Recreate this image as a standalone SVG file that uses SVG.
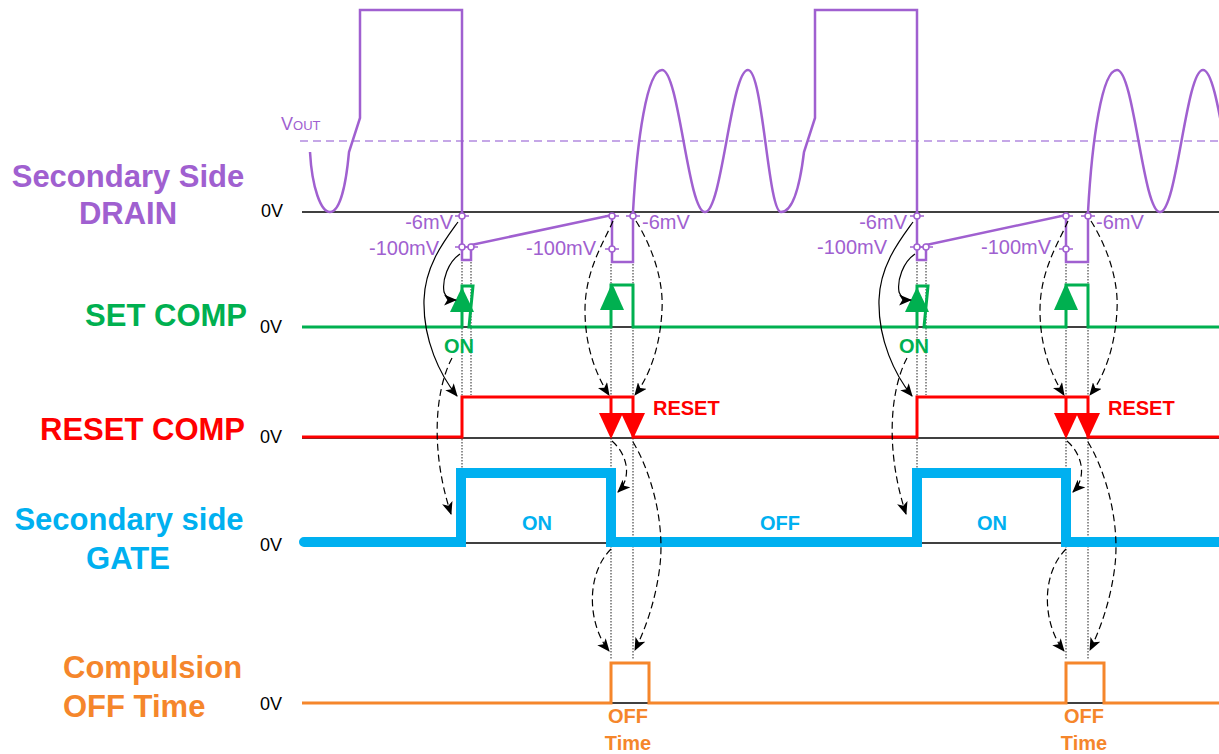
<svg xmlns="http://www.w3.org/2000/svg" width="1219" height="754" viewBox="0 0 1219 754">
<defs>
<style>
text{font-family:"Liberation Sans",Arial,sans-serif}
.lbl{font-weight:bold;font-size:31px}
.sm{font-weight:bold;font-size:20px}
.zero{font-size:18px;fill:#000}
.mv{font-size:20px;fill:#A060D0}
.base{stroke:#000;stroke-width:1.5;fill:none}
.dot{stroke:#222;stroke-width:1;stroke-dasharray:1.5 1.5;fill:none}
.conn{stroke:#000;stroke-width:1.2;fill:none;marker-end:url(#ah)}
.dash{stroke-dasharray:7 4}
.wave{fill:none;stroke-linejoin:miter}
</style>
<marker id="ah" viewBox="0 0 12 10" refX="11" refY="5" markerWidth="13" markerHeight="11" orient="auto" markerUnits="userSpaceOnUse"><path d="M0,0 L12,5 L0,10 L3,5 z" fill="#000"/></marker>
<g id="mk"><line x1="-7" y1="0" x2="7" y2="0" stroke="#A060D0" stroke-width="1.5"/><circle r="3" fill="#fff" stroke="#A060D0" stroke-width="1.5"/></g>
</defs>
<rect width="1219" height="754" fill="#fff"/>

<g id="baselines">
<line class="base" x1="302" y1="212" x2="1219" y2="212"/>
<line class="base" x1="302" y1="327" x2="1219" y2="327"/>
<line class="base" x1="302" y1="438" x2="1219" y2="438"/>
<line class="base" x1="302" y1="543" x2="1219" y2="543"/>
<line class="base" x1="302" y1="703" x2="1219" y2="703"/>
</g>

<g id="guides">
<line class="dot" x1="462" y1="262" x2="462" y2="470"/>
<line class="dot" x1="471" y1="262" x2="471" y2="395"/>
<line class="dot" x1="611" y1="264" x2="611" y2="660"/>
<line class="dot" x1="633" y1="264" x2="633" y2="660"/>
<line class="dot" x1="917" y1="262" x2="917" y2="470"/>
<line class="dot" x1="926" y1="262" x2="926" y2="395"/>
<line class="dot" x1="1066" y1="264" x2="1066" y2="660"/>
<line class="dot" x1="1088" y1="264" x2="1088" y2="660"/>
</g>

<g id="drain">
<line x1="300" y1="141" x2="1219" y2="141" stroke="#B38BE0" stroke-width="1.3" stroke-dasharray="8 5"/>
<text x="281" y="130" font-size="18" fill="#A060D0">V<tspan font-size="13">OUT</tspan></text>
<path class="wave" stroke="#A060D0" stroke-width="2.5" d="M310,152 C312,188 321,212 330,212 C340,212 346,185 349,152 L360,118 L360,10 L462,10 L462,260 L471,260 L471,245 L612,215 L612,262 L633,262 L633,212 C637,140 647,70 662,70 C679,70 688,212 705,212 C722,212 731,70 748,70 C763,70 768,212 781,212 C793,212 800,185 804,152 L815,118 L815,10 L917,10 L917,260 L926,260 L926,245 L1066,215 L1066,262 L1088,262 L1088,212 C1092,140 1102,70 1117,70 C1134,70 1143,212 1160,212 C1177,212 1186,70 1203,70 C1220,70 1229,212 1246,212"/>
<use href="#mk" x="462" y="216"/>
<use href="#mk" x="462" y="247"/>
<use href="#mk" x="471" y="247"/>
<use href="#mk" x="612" y="216"/>
<use href="#mk" x="612" y="249"/>
<use href="#mk" x="633" y="216"/>
<use href="#mk" x="917" y="216"/>
<use href="#mk" x="917" y="247"/>
<use href="#mk" x="926" y="247"/>
<use href="#mk" x="1066" y="216"/>
<use href="#mk" x="1066" y="249"/>
<use href="#mk" x="1088" y="216"/>
<text class="mv" x="453" y="229" text-anchor="end">-6mV</text>
<text class="mv" x="439" y="255" text-anchor="end">-100mV</text>
<text class="mv" x="596" y="255" text-anchor="end">-100mV</text>
<text class="mv" x="642" y="229">-6mV</text>
<text class="mv" x="907" y="229" text-anchor="end">-6mV</text>
<text class="mv" x="887" y="254" text-anchor="end">-100mV</text>
<text class="mv" x="1051" y="254" text-anchor="end">-100mV</text>
<text class="mv" x="1096" y="229">-6mV</text>
<text class="lbl" x="128" y="187" text-anchor="middle" fill="#A060D0">Secondary Side</text>
<text class="lbl" x="128" y="224" text-anchor="middle" fill="#A060D0">DRAIN</text>
<text class="zero" x="261" y="217">0V</text>
</g>

<g id="set-comp">
<path class="wave" stroke="#00B050" stroke-width="3" d="M302,327 L462,327 L462,286 L473,286 L469,327 L611,327 L611,285 L633,285 L633,327 L917,327 L917,286 L928,286 L924,327 L1066,327 L1066,285 L1088,285 L1088,327 L1219,327"/>
<polygon fill="#00B050" points="462,287 450,312 474,312"/>
<polygon fill="#00B050" points="612,283 600,310 624,310"/>
<polygon fill="#00B050" points="917,287 905,312 929,312"/>
<polygon fill="#00B050" points="1066,283 1054,310 1078,310"/>
<text class="sm" x="459" y="353" text-anchor="middle" fill="#00B050">ON</text>
<text class="sm" x="914" y="353" text-anchor="middle" fill="#00B050">ON</text>
<text class="lbl" x="247" y="326" text-anchor="end" fill="#00B050">SET COMP</text>
<text class="zero" x="260" y="333">0V</text>
</g>

<g id="reset-comp">
<path class="wave" stroke="#FF0000" stroke-width="3" d="M302,437 L462,437 L462,397 L633,397 L633,437 L917,437 L917,397 L1088,397 L1088,437 L1219,437"/>
<line x1="611" y1="397" x2="611" y2="415" stroke="#FF0000" stroke-width="3"/>
<line x1="1066" y1="397" x2="1066" y2="415" stroke="#FF0000" stroke-width="3"/>
<polygon fill="#FF0000" points="611,439 599,413 623,413"/>
<polygon fill="#FF0000" points="633,439 621,413 645,413"/>
<polygon fill="#FF0000" points="1066,439 1054,413 1078,413"/>
<polygon fill="#FF0000" points="1088,439 1076,413 1100,413"/>
<text class="sm" x="653" y="415" fill="#FF0000">RESET</text>
<text class="sm" x="1108" y="415" fill="#FF0000">RESET</text>
<text class="lbl" x="245" y="440" text-anchor="end" fill="#FF0000">RESET COMP</text>
<text class="zero" x="260" y="443">0V</text>
</g>

<g id="gate">
<path class="wave" stroke="#00B0F0" stroke-width="10" stroke-linejoin="round" stroke-linecap="round" d="M304,542 L461,542 L461,473 L611,473 L611,542 L917,542 L917,473 L1066,473 L1066,542 L1222,542"/>
<text class="sm" x="537" y="530" text-anchor="middle" fill="#00B0F0">ON</text>
<text class="sm" x="780" y="530" text-anchor="middle" fill="#00B0F0">OFF</text>
<text class="sm" x="992" y="530" text-anchor="middle" fill="#00B0F0">ON</text>
<text class="lbl" x="129" y="530" text-anchor="middle" fill="#00B0F0">Secondary side</text>
<text class="lbl" x="128" y="569" text-anchor="middle" fill="#00B0F0">GATE</text>
<text class="zero" x="260" y="551">0V</text>
</g>

<g id="compulsion">
<path class="wave" stroke="#F5862B" stroke-width="3" d="M302,703 L611,703 L611,663 L649,663 L649,703 L1066,703 L1066,663 L1104,663 L1104,703 L1219,703"/>
<text class="sm" x="628" y="723" text-anchor="middle" fill="#F5862B">OFF</text>
<text class="sm" x="628" y="750" text-anchor="middle" fill="#F5862B">Time</text>
<text class="sm" x="1084" y="723" text-anchor="middle" fill="#F5862B">OFF</text>
<text class="sm" x="1084" y="750" text-anchor="middle" fill="#F5862B">Time</text>
<text class="lbl" x="63" y="678" fill="#F5862B">Compulsion</text>
<text class="lbl" x="63" y="717" fill="#F5862B">OFF Time</text>
<text class="zero" x="260" y="710">0V</text>
</g>

<g id="connectors">
<path class="conn" d="M458,222 C445,240 425,265 424,300 C423,340 440,375 457,396"/>
<path class="conn" d="M460,254 C448,262 442,280 444,292 C446,298 450,300 456,300"/>
<path class="conn dash" d="M452,358 C435,390 430,450 451,514"/>
<path class="conn dash" d="M613,221 C605,240 585,270 585,310 C585,350 598,378 609,395"/>
<path class="conn dash" d="M636,221 C648,240 664,275 662,310 C660,350 648,378 635,395"/>
<path class="conn dash" d="M612,441 C628,455 632,478 618,492"/>
<path class="conn dash" d="M633,442 C650,470 665,520 660,565 C656,600 645,630 635,650"/>
<path class="conn dash" d="M611,549 C585,575 588,625 609,651"/>
<path class="conn" d="M913,222 C900,240 880,265 879,300 C878,340 895,375 912,396"/>
<path class="conn" d="M915,254 C903,262 897,280 899,292 C901,298 905,300 911,300"/>
<path class="conn dash" d="M907,358 C890,390 885,450 906,514"/>
<path class="conn dash" d="M1068,221 C1060,240 1040,270 1040,310 C1040,350 1053,378 1064,395"/>
<path class="conn dash" d="M1091,221 C1103,240 1119,275 1117,310 C1115,350 1103,378 1090,395"/>
<path class="conn dash" d="M1067,441 C1083,455 1087,478 1073,492"/>
<path class="conn dash" d="M1088,442 C1105,470 1120,520 1115,565 C1111,600 1100,630 1090,650"/>
<path class="conn dash" d="M1066,549 C1040,575 1043,625 1064,651"/>
</g>
</svg>
